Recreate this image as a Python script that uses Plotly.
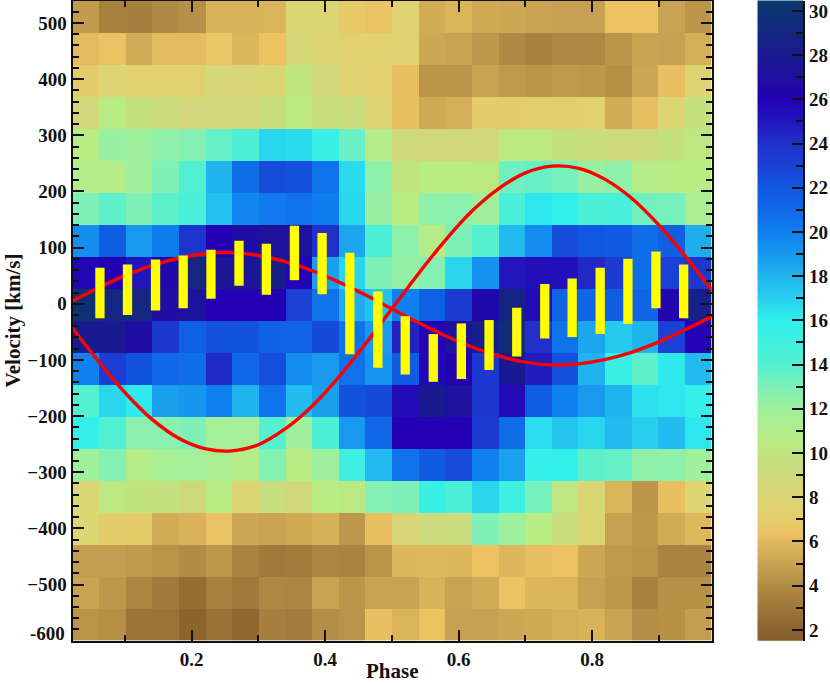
import numpy as np
import plotly.graph_objects as go

# values, top row first (v = 511 ... -571 km/s)
z_rows = [
    [4.7, 3.5, 3.4, 3.9, 4.2, 5.7, 5.7, 5.8, 8.0, 8.0, 6.8, 6.4, 7.7, 5.4, 5.8, 5.3, 5.2, 5.0, 4.9, 4.9, 6.3, 6.3, 5.0, 4.4],
    [6.1, 6.3, 5.4, 6.1, 6.1, 6.6, 5.9, 6.3, 8.4, 7.9, 7.5, 7.4, 7.7, 5.2, 5.0, 4.5, 3.9, 3.5, 3.8, 3.8, 4.4, 5.0, 4.9, 5.5],
    [7.0, 7.9, 7.5, 7.4, 7.4, 8.4, 8.3, 8.2, 10.0, 8.7, 7.6, 7.3, 6.2, 4.4, 4.4, 5.0, 4.6, 4.4, 4.6, 4.5, 4.2, 5.2, 6.2, 7.8],
    [8.7, 10.5, 9.7, 9.2, 8.6, 8.6, 8.6, 9.4, 10.3, 9.5, 9.3, 7.8, 6.2, 5.3, 5.5, 7.0, 7.0, 7.2, 7.2, 7.3, 5.4, 6.2, 8.0, 9.6],
    [10.6, 12.2, 12.0, 12.5, 12.8, 13.6, 14.3, 16.8, 16.7, 15.5, 13.5, 10.8, 9.0, 8.8, 8.9, 8.9, 10.4, 10.4, 9.7, 9.4, 9.0, 9.2, 9.6, 10.2],
    [10.9, 10.7, 12.0, 13.0, 14.2, 18.0, 20.8, 22.5, 22.3, 20.5, 16.7, 12.5, 10.0, 10.5, 10.5, 10.4, 13.4, 13.6, 13.2, 12.2, 12.5, 10.8, 10.6, 10.6],
    [13.0, 13.8, 13.0, 13.8, 14.5, 17.6, 19.7, 20.3, 20.6, 20.2, 16.8, 12.2, 10.6, 12.5, 12.6, 12.0, 14.5, 16.3, 15.9, 14.5, 14.6, 13.3, 13.2, 11.3],
    [19.4, 21.7, 19.0, 20.2, 23.7, 26.0, 26.8, 27.3, 27.2, 24.0, 18.5, 14.5, 12.5, 10.7, 13.0, 14.0, 17.7, 19.5, 22.5, 22.0, 21.8, 20.8, 21.6, 18.2],
    [25.7, 26.0, 25.0, 26.5, 29.0, 27.5, 27.5, 28.5, 25.8, 18.8, 16.8, 13.0, 12.3, 12.8, 16.8, 19.3, 25.0, 25.3, 25.2, 24.3, 23.3, 20.7, 23.0, 23.5],
    [29.8, 29.0, 29.0, 26.8, 27.2, 26.0, 26.0, 26.0, 23.0, 20.6, 18.2, 17.5, 20.0, 21.5, 23.3, 26.5, 28.8, 25.5, 21.3, 21.1, 21.7, 21.2, 26.3, 28.5],
    [28.0, 28.0, 26.8, 23.5, 21.5, 22.3, 22.2, 21.4, 21.3, 22.6, 20.5, 19.0, 24.5, 25.8, 27.2, 28.5, 29.3, 24.0, 20.5, 18.5, 17.3, 18.0, 23.0, 25.8],
    [20.0, 23.2, 22.2, 21.0, 20.8, 24.2, 21.0, 22.4, 19.5, 19.0, 20.6, 19.2, 21.8, 25.6, 26.2, 23.5, 27.8, 24.7, 22.3, 18.0, 15.3, 13.8, 16.2, 17.8],
    [14.0, 16.8, 16.2, 18.8, 19.1, 20.0, 18.0, 20.5, 17.7, 18.8, 22.2, 22.6, 25.5, 28.0, 27.2, 23.5, 25.5, 21.7, 20.0, 19.0, 18.0, 16.5, 16.3, 15.7],
    [15.7, 14.2, 12.6, 12.7, 13.0, 11.7, 11.7, 14.0, 12.0, 14.3, 19.0, 21.0, 26.0, 26.0, 26.0, 23.3, 20.8, 16.6, 17.4, 16.8, 17.8, 17.0, 17.7, 16.3],
    [12.0, 12.8, 10.7, 11.5, 11.7, 11.3, 10.9, 12.8, 10.6, 12.0, 15.0, 17.8, 20.5, 21.8, 22.5, 20.0, 18.7, 15.7, 15.9, 13.8, 13.6, 12.4, 12.5, 12.0],
    [8.2, 10.2, 9.8, 9.7, 9.0, 10.5, 8.0, 9.5, 8.9, 10.6, 10.3, 12.8, 13.0, 15.4, 14.5, 16.8, 15.0, 13.2, 10.2, 8.2, 5.8, 4.4, 6.2, 7.9],
    [8.0, 7.0, 6.9, 5.4, 5.7, 6.4, 5.2, 5.0, 5.3, 5.6, 4.5, 6.2, 8.3, 9.2, 9.3, 13.0, 12.0, 10.6, 9.4, 8.0, 4.9, 4.5, 5.4, 6.0],
    [4.8, 4.8, 4.6, 4.3, 4.0, 4.5, 3.6, 3.1, 3.2, 3.7, 3.6, 4.4, 5.9, 6.0, 5.9, 6.3, 5.9, 6.2, 6.3, 5.2, 4.6, 4.3, 3.6, 3.6],
    [5.0, 4.5, 3.7, 3.1, 2.5, 3.5, 3.1, 3.8, 3.7, 5.0, 4.4, 5.0, 5.0, 5.7, 5.0, 5.4, 6.4, 5.9, 5.8, 4.9, 4.5, 3.5, 4.2, 4.2],
    [4.3, 4.2, 2.9, 2.8, 2.1, 2.7, 2.3, 3.4, 3.2, 4.1, 4.3, 6.2, 5.8, 6.3, 4.9, 4.9, 5.2, 5.3, 5.5, 5.7, 5.0, 4.1, 4.2, 4.8],
]

# red curves, read every 0.04 in phase
curve_phase = [0.02, 0.06, 0.10, 0.14, 0.18, 0.22, 0.26, 0.30, 0.34, 0.38, 0.42, 0.46, 0.50,
               0.54, 0.58, 0.62, 0.66, 0.70, 0.74, 0.78, 0.82, 0.86, 0.90, 0.94, 0.98]
curve_big = [-41, -102, -158, -205, -239, -258, -262, -251, -223, -183, -131, -72, -9,
             54, 113, 165, 205, 233, 245, 241, 221, 187, 140, 84, 23]
curve_small = [4, 28, 50, 68, 81, 89, 91, 86, 75, 59, 39, 16, -9,
               -34, -57, -77, -93, -104, -109, -107, -99, -86, -68, -46, -22]

# yellow bars
bar_phase = [0.0627, 0.104, 0.146, 0.1874, 0.229, 0.271, 0.312, 0.354, 0.3955, 0.437, 0.479,
             0.520, 0.562, 0.604, 0.6455, 0.687, 0.729, 0.770, 0.812, 0.8535, 0.8955, 0.937]
bar_high = [64, 70, 79, 86, 96, 112, 107, 139, 126, 91, 22, -22, -54, -35, -29, -7, 35, 45, 64, 80, 93, 70]
bar_low = [-26, -20, -12, -8, 9, 32, 16, 42, 17, -90, -114, -126, -139, -134, -118, -94, -62, -59, -54, -36, -8, -26]

# colour scale, stops in data units
stop_values = [1.51, 2, 4, 5, 6, 6.3, 7, 8, 9, 10, 10.6, 12, 13, 14, 15, 16, 17, 18, 19, 20,
               21, 22, 23, 24, 25, 26, 27, 28, 29, 30, 30.47]
stop_colors = ['#86602c', '#8a632d', '#b08c45', '#c9a352', '#e0b85c', '#ecc263', '#e5cc6a', '#dcd574',
               '#ced97c', '#bfe480', '#b8ec85', '#9ef09c', '#7ef0b8', '#55f0d0', '#3ff0e0', '#30f0ec',
               '#28d0ee', '#20b4ee', '#1898ee', '#0e80f0', '#1068e6', '#1058e0', '#1a40d4', '#2030c8',
               '#2215bc', '#2400b4', '#1e10a0', '#1a1a90', '#142680', '#0c3474', '#0a3a6c']

zmin, zmax = 1.51, 30.47
colorscale = [[(v - zmin) / (zmax - zmin), c] for v, c in zip(stop_values, stop_colors)]

W, H = 830, 684
FONT = 'Liberation Serif'
INK = '#111111'

bar_x, bar_y = [], []
for p, lo, hi in zip(bar_phase, bar_low, bar_high):
    bar_x += [p, p, None]
    bar_y += [lo, hi, None]

levels = np.arange(zmin, zmax + 0.02, 0.04)

fig = go.Figure()
fig.add_trace(go.Heatmap(
    z=z_rows[::-1], x0=0.0416, dx=0.0399, y0=-571.5, dy=57,
    colorscale=colorscale, zmin=zmin, zmax=zmax, showscale=False
))
fig.add_trace(go.Scatter(x=curve_phase, y=curve_big, mode='lines', showlegend=False,
                         line=dict(color='#ff0000', width=3.4, shape='spline')))
fig.add_trace(go.Scatter(x=curve_phase, y=curve_small, mode='lines', showlegend=False,
                         line=dict(color='#ff0000', width=3.4, shape='spline')))
fig.add_trace(go.Scatter(x=bar_x, y=bar_y, mode='lines', showlegend=False,
                         line=dict(color='#ffff00', width=9.3)))
# colour bar strip, on its own axes so it can have minor ticks
fig.add_trace(go.Heatmap(
    z=[[v] for v in levels], x=[0], y=levels, xaxis='x2', yaxis='y2',
    colorscale=colorscale, zmin=zmin, zmax=zmax, showscale=False
))

tick_font = dict(family=FONT, size=19, color=INK, weight='bold')
title_font = dict(family=FONT, size=21, color=INK, weight='bold')
y0, y1 = 1 - 640.7 / H, 1 - 0.5 / H

fig.update_layout(
    width=W, height=H, margin=dict(l=0, r=0, t=0, b=0),
    paper_bgcolor='white', plot_bgcolor='white',
    xaxis=dict(
        domain=[72.5 / W, 711.7 / W], range=[0.0216, 0.979], automargin=False,
        tickmode='array', tickvals=[0.2, 0.4, 0.6, 0.8], ticktext=['0.2', '0.4', '0.6', '0.8'],
        ticks='inside', ticklen=11, tickwidth=2, tickcolor=INK,
        minor=dict(ticks='inside', ticklen=6, tickwidth=2, tickcolor=INK, tick0=0, dtick=0.1),
        showline=True, linecolor=INK, linewidth=2, mirror='ticks', showgrid=False, zeroline=False,
        tickfont=tick_font
    ),
    yaxis=dict(
        domain=[y0, y1], range=[-600, 540], automargin=False,
        tickmode='array', tickvals=list(range(-500, 501, 100)),
        ticks='inside', ticklen=11, tickwidth=2, tickcolor=INK,
        minor=dict(ticks='inside', ticklen=6, tickwidth=2, tickcolor=INK, tick0=0, dtick=20),
        showline=True, linecolor=INK, linewidth=2, mirror='ticks', showgrid=False, zeroline=False,
        tickfont=tick_font
    ),
    xaxis2=dict(
        domain=[757.3 / W, 803.3 / W], anchor='y2', showticklabels=False, ticks='', automargin=False,
        showline=False, showgrid=False, zeroline=False
    ),
    yaxis2=dict(
        domain=[y0, y1], anchor='x2', side='right', range=[zmin, zmax], automargin=False,
        tick0=0, dtick=2, ticks='inside', ticklen=11, tickwidth=2, tickcolor=INK,
        minor=dict(ticks='inside', ticklen=7, tickwidth=2, tickcolor=INK, tick0=1, dtick=2),
        showline=True, linecolor=INK, linewidth=2, showgrid=False, zeroline=False,
        tickfont=tick_font
    ),
    annotations=[
        dict(text='-600', xref='paper', yref='paper', x=66.7 / W, y=1 - 633 / H,
             xanchor='right', yanchor='middle', showarrow=False, font=tick_font),
        dict(text='Phase', xref='paper', yref='paper', x=392 / W, y=1 - 671 / H,
             xanchor='center', yanchor='middle', showarrow=False, font=title_font),
        dict(text='Velocity [km/s]', xref='paper', yref='paper', x=12 / W, y=1 - 320.5 / H,
             xanchor='center', yanchor='middle', textangle=-90, showarrow=False, font=title_font),
    ]
)

fig.write_html("out.html", config={'displayModeBar': False}, post_script="document.body.style.margin='0';")
